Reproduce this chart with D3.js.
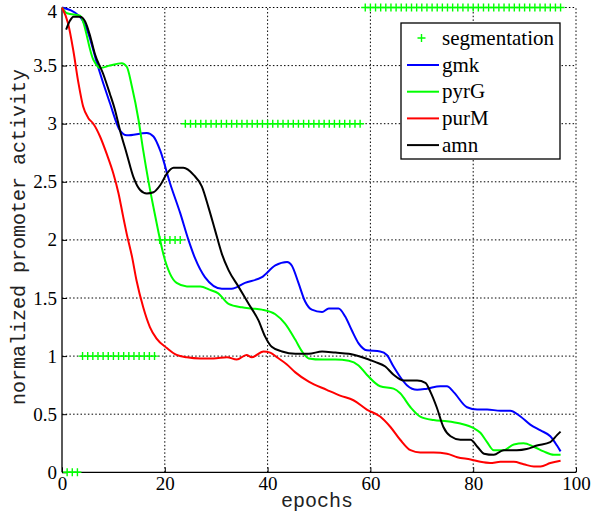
<!DOCTYPE html>
<html><head><meta charset="utf-8">
<script src="https://cdn.jsdelivr.net/npm/d3@7"></script>
<style>body{margin:0;background:#fff}svg{display:block}</style>
</head><body>
<svg id="c" width="603" height="519"></svg>
<script>
// ---- data ----
const xTicks = [0, 20, 40, 60, 80, 100];
const yTicks = [0, 0.5, 1, 1.5, 2, 2.5, 3, 3.5, 4];
const yTickLabels = ["0", "0.5", "1", "1.5", "2", "2.5", "3", "3.5", "4"];
const seriesNames = ["gmk", "pyrG", "purM", "amn"];
const seriesColors = ["#0000ff", "#00ff00", "#ff0000", "#000000"];

// segmentation level per epoch (epochs 1..97)
const segmentation = [
  0,0,0,
  1,1,1,1,1,1,1,1,1,1,1,1,1,1,1,
  2,2,2,2,2,
  3,3,3,3,3,3,3,3,3,3,3,3,3,3,3,3,3,3,3,3,3,3,3,3,3,3,3,3,3,3,3,3,3,3,3,
  4,4,4,4,4,4,4,4,4,4,4,4,4,4,4,4,4,4,4,4,4,4,4,4,4,4,4,4,4,4,4,4,4,4,4,4,4,4,4
];

const gmk = [[0,4],[3.5,3.92],[5.1,3.78],[6.8,3.52],[9.3,3.18],[11.3,2.94],[12.6,2.90],[16.5,2.92],[17.8,2.89],[19.1,2.77],[21,2.49],[23,2.23],[24.6,2.0],[25.9,1.84],[27.8,1.68],[31.1,1.58],[33,1.58],[35.6,1.63],[38.9,1.68],[41.5,1.78],[43.8,1.81],[44.7,1.78],[46,1.63],[47.3,1.47],[48.6,1.40],[50.6,1.38],[51.9,1.41],[53.8,1.41],[55.1,1.34],[56.4,1.22],[57.7,1.11],[59.3,1.05],[61.9,1.04],[63.2,1.01],[64.5,0.91],[65.8,0.82],[67.1,0.75],[69.1,0.71],[71,0.72],[73.6,0.74],[74.9,0.74],[76.2,0.69],[78.8,0.56],[80.8,0.54],[82.7,0.54],[85.3,0.53],[87.2,0.53],[89.2,0.48],[91.1,0.41],[93.1,0.36],[95,0.31],[96.3,0.23],[97,0.18]];

const pyrG = [[0,4],[1,3.95],[3.5,3.93],[6.1,3.55],[7.4,3.48],[9.3,3.50],[11.6,3.52],[12.6,3.49],[13.6,3.32],[14.9,3.03],[15.8,2.77],[16.8,2.51],[17.8,2.28],[18.8,2.06],[19.7,1.88],[21,1.71],[22.3,1.63],[24.3,1.60],[26.9,1.60],[28.8,1.57],[30.4,1.54],[32.4,1.45],[35,1.42],[36.9,1.41],[38.9,1.40],[41.5,1.36],[43.4,1.28],[45.4,1.14],[46.7,1.04],[48,0.98],[50.6,0.97],[53.2,0.97],[55.8,0.96],[57.7,0.92],[59.3,0.84],[61.9,0.74],[64.5,0.72],[65.8,0.68],[67.8,0.56],[69.7,0.48],[72.3,0.45],[74.9,0.44],[77.5,0.42],[80.1,0.38],[81.4,0.34],[82.7,0.26],[84,0.19],[85.9,0.19],[87.9,0.24],[89.8,0.25],[91.8,0.22],[93.7,0.18],[95.7,0.15],[97,0.15]];

const purM = [[0,4.0],[1.2,3.86],[2.2,3.63],[3.2,3.35],[4.1,3.15],[5.1,3.05],[6.1,3.0],[7.4,2.89],[8.7,2.74],[10,2.57],[11,2.40],[11.9,2.20],[12.6,2.05],[13.6,1.86],[14.5,1.65],[15.8,1.42],[17.1,1.25],[18.4,1.15],[20.4,1.07],[22.3,1.01],[24.3,0.99],[26.9,0.98],[29.5,0.98],[32.1,0.99],[34,0.97],[35.9,1.01],[36.9,0.99],[39.2,1.04],[40.5,1.03],[41.8,0.99],[43.7,0.93],[45.4,0.86],[48,0.78],[51.5,0.71],[54.1,0.66],[56.7,0.62],[59.3,0.54],[61.9,0.48],[63.9,0.39],[65.8,0.28],[67.8,0.19],[69.7,0.17],[72.3,0.17],[74.9,0.16],[76.9,0.13],[79.5,0.11],[81.4,0.09],[83.3,0.08],[85.3,0.09],[87.9,0.09],[89.8,0.07],[91.8,0.05],[93.1,0.05],[95,0.08],[97,0.10]];

const amn = [[0.8,3.81],[1.6,3.89],[2.2,3.92],[3.5,3.92],[4.5,3.88],[5.5,3.75],[6.4,3.60],[8,3.43],[9.3,3.26],[10.3,3.12],[11.3,2.94],[12.6,2.74],[13.9,2.54],[15.2,2.43],[16.5,2.40],[17.8,2.41],[19.1,2.47],[20.4,2.57],[21.7,2.62],[23.6,2.62],[25.6,2.56],[27.2,2.46],[28.5,2.28],[29.8,2.08],[31.1,1.88],[32.4,1.74],[34.3,1.60],[36.3,1.45],[38.2,1.31],[39.5,1.17],[40.8,1.08],[42.8,1.04],[45.4,1.02],[48,1.02],[50.6,1.04],[53.2,1.03],[55.8,1.02],[58.4,0.99],[60.9,0.95],[62.9,0.91],[64.5,0.84],[66.5,0.79],[69.1,0.79],[70.7,0.77],[71.7,0.69],[72.9,0.56],[74.2,0.39],[75.6,0.31],[77.5,0.28],[79.5,0.28],[80.8,0.22],[82.1,0.16],[84,0.15],[85.9,0.19],[88.5,0.19],[90.4,0.20],[92.4,0.23],[95,0.26],[96.3,0.32],[97,0.35]];

const seriesData = [gmk, pyrG, purM, amn];

// ---- layout ----
const svg = d3.select("#c");
const L = 62, R = 576, T = 7.5, B = 472.3;
const x = d3.scaleLinear().domain([0, 100]).range([L, R]);
const y = d3.scaleLinear().domain([0, 4]).range([B, T]);

// grid
const grid = svg.append("g").attr("stroke", "#000").attr("stroke-width", 1).attr("stroke-dasharray", "1.5,2.2");
grid.selectAll(".gx").data(xTicks.filter(d => d > 0)).enter().append("line")
  .attr("x1", d => x(d)).attr("x2", d => x(d)).attr("y1", B).attr("y2", T);
grid.selectAll(".gy").data(yTicks.filter(d => d > 0)).enter().append("line")
  .attr("x1", L).attr("x2", R).attr("y1", d => y(d)).attr("y2", d => y(d));

// axes
const serif = "'Liberation Serif','Times New Roman',serif";
const xAxis = d3.axisBottom(x).tickValues(xTicks).tickSize(-5).tickPadding(10).tickFormat(d3.format("d"));
const gx = svg.append("g").attr("transform", `translate(0,${B})`).call(xAxis);
const yAxis = d3.axisLeft(y).tickValues(yTicks).tickSize(-5).tickPadding(10).tickFormat((d, i) => yTickLabels[i]);
const gy = svg.append("g").attr("transform", `translate(${L},0)`).call(yAxis);
[gx, gy].forEach(g => {
  g.attr("font-family", serif).attr("font-size", 19);
  g.select(".domain").attr("stroke", "#000").attr("stroke-width", 1.3);
  g.selectAll(".tick line").attr("stroke", "#000");
  g.selectAll("text").attr("font-family", serif).attr("font-size", 19).attr("fill", "#000");
});
gx.select(".domain").attr("d", `M${L},0H${R}`);
gy.select(".domain").attr("d", `M0,${B}V${T}`);
gx.selectAll(".tick text").attr("dy", "0.71em").attr("y", 4);
gy.selectAll(".tick text").attr("x", -5).attr("dy", d => d === 4 ? "0.55em" : "0.32em");

// segmentation markers
const segG = svg.append("g");
segG.selectAll("path").data(segmentation).enter().append("path")
  .attr("transform", (d, i) => `translate(${x(i + 1)},${y(d)})`)
  .attr("d", "M-4,0H4M0,-4V4")
  .attr("stroke", "#00ff00").attr("stroke-width", 1.4).attr("fill", "none");

// curves
const line = d3.line().x(d => x(d[0])).y(d => y(d[1])).curve(d3.curveMonotoneX);
seriesData.forEach((s, i) => {
  svg.append("path").datum(s).attr("d", line)
    .attr("fill", "none").attr("stroke", seriesColors[i]).attr("stroke-width", 2)
    .attr("stroke-linejoin", "round");
});

// axis labels
const mono = "'Liberation Mono','Courier New',monospace";
svg.append("text").attr("x", 317).attr("y", 507).attr("text-anchor", "middle")
  .attr("font-family", mono).attr("font-size", 20).attr("fill", "#222").text("epochs");
svg.append("text").attr("transform", "translate(25,237) rotate(-90)").attr("text-anchor", "middle")
  .attr("font-family", mono).attr("font-size", 20).attr("fill", "#222").text("normalized promoter activity");

// legend
const lg = svg.append("g");
lg.append("rect").attr("x", 401).attr("y", 23).attr("width", 159).attr("height", 136)
  .attr("fill", "#fff").attr("stroke", "#000").attr("stroke-width", 1.3);
lg.append("path").attr("d", "M417.5,38H425.5M421.5,34V42").attr("stroke", "#00ff00").attr("stroke-width", 1.4);
lg.append("text").attr("x", 442).attr("y", 45).attr("font-family", serif).attr("font-size", 21).text("segmentation");
seriesNames.forEach((n, i) => {
  const by = 71.5 + i * 26.7;
  lg.append("line").attr("x1", 407).attr("x2", 439).attr("y1", by - 6.5).attr("y2", by - 6.5)
    .attr("stroke", seriesColors[i]).attr("stroke-width", 2);
  lg.append("text").attr("x", 442).attr("y", by).attr("font-family", serif).attr("font-size", 21).text(n);
});
</script>
</body></html>
